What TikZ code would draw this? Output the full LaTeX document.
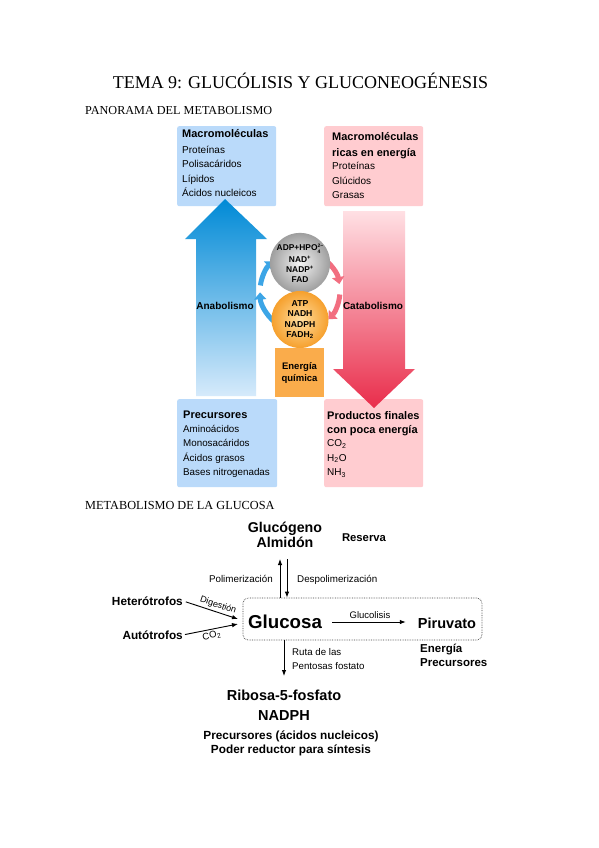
\documentclass[tikz,border=0pt]{standalone}
\usepackage{fontspec}
\setmainfont{Liberation Serif}
\newfontfamily\arial{Liberation Sans}
\usetikzlibrary{arrows.meta}
\definecolor{boxblue}{RGB}{186,218,250}
\definecolor{boxpink}{RGB}{255,204,208}
\definecolor{arrblueA}{RGB}{0,138,214}
\definecolor{arrblueB}{RGB}{214,234,251}
\definecolor{arrredA}{RGB}{255,224,228}
\definecolor{arrredB}{RGB}{233,45,75}
\definecolor{orangeA}{RGB}{255,222,160}
\definecolor{orangeB}{RGB}{246,160,45}
\definecolor{eqorange}{RGB}{250,172,75}
\definecolor{ringblue}{RGB}{60,165,230}
\definecolor{ringred}{RGB}{242,110,128}
\definecolor{grayA}{RGB}{244,244,244}
\definecolor{grayB}{RGB}{158,158,158}
\tikzset{
  heading/.style={inner sep=0, anchor=base west, font=\fontsize{#1}{14}\selectfont},
  bt/.style={inner sep=0, anchor=base west, font=\arial\bfseries\fontsize{#1}{14}\selectfont},
  rt/.style={inner sep=0, anchor=base west, font=\arial\fontsize{#1}{14}\selectfont},
  panel/.style={inner sep=0, anchor=north west, rounded corners=2pt},
  ringarr/.style={line width=5pt, -{Triangle[length=7pt,width=12pt]}},
  arr/.style={line width=0.9pt, -{Latex[length=6pt,width=4.5pt]}},
}
\begin{document}
\begin{tikzpicture}[x=1pt,y=-1pt]
\useasboundingbox (0,0) rectangle (599,848);
\fill[white] (0,0) rectangle (599,848);

% headings
\node[heading=18, anchor=base] (title) at (300.5,89) {TEMA 9: GLUCÓLISIS Y GLUCONEOGÉNESIS};
\node[heading=12.2] (pan) at (85,114) {PANORAMA DEL METABOLISMO};
\node[heading=12.3] (metg) at (85,509) {METABOLISMO DE LA GLUCOSA};

% panel boxes
\node[panel, fill=boxblue, minimum width=99pt, minimum height=80pt] (tlbox) at (177,126) {};
\node[panel, fill=boxpink, minimum width=99pt, minimum height=80pt] (trbox) at (324,126) {};
\node[panel, fill=boxblue, minimum width=100pt, minimum height=88pt] (blbox) at (177,399) {};
\node[panel, fill=boxpink, minimum width=99pt, minimum height=88pt] (brbox) at (324,399) {};

% big arrows
\shade[top color=arrblueA, bottom color=arrblueB]
  (225,199) -- (267,239) -- (256,239) -- (256,396) -- (196,396) -- (196,239) -- (185,239) -- cycle;
\shade[top color=arrredA, bottom color=arrredB]
  (343,211) -- (405,211) -- (405,369) -- (415,369) -- (374,408) -- (333,369) -- (343,369) -- cycle;

% box texts
\node[bt=11] (tl0) at (182,138) {Macromoléculas};
\foreach \t [count=\i] in {Proteínas,Polisacáridos,Lípidos,Ácidos nucleicos}
  \node[rt=10] (tl\i) at (182,139.3+14.33*\i) {\t};
\node[bt=11] (tr0) at (332,140) {Macromoléculas};
\node[bt=11] (tr00) at (332,156) {ricas en energía};
\foreach \t [count=\i] in {Proteínas,Glúcidos,Grasas}
  \node[rt=10] (tr\i) at (332,155.1+14.5*\i) {\t};
\node[bt=11] (bl0) at (183,418) {Precursores};
\foreach \t [count=\i] in {Aminoácidos,Monosacáridos,Ácidos grasos,Bases nitrogenadas}
  \node[rt=9.8] (bl\i) at (183,418.3+14.33*\i) {\t};
\node[bt=11] (br0) at (327,419) {Productos finales};
\node[bt=11] (br00) at (327,433) {con poca energía};
\node[rt=10] (br1) at (327,446.6) {CO\textsubscript{2}};
\node[rt=10] (br2) at (327,461.1) {H\textsubscript{2}O};
\node[rt=10] (br3) at (327,475.6) {NH\textsubscript{3}};

% arrow labels
\node[bt=10, anchor=base] (ana) at (225,309.6) {Anabolismo};
\node[bt=10, anchor=base] (cata) at (373,309.6) {Catabolismo};

% ring arrows
\coordinate (rc) at (300,291);
\draw[ringarr, ringblue] ([shift={(130:40)}]rc) arc[start angle=130, end angle=178, radius=40];
\draw[ringarr, ringblue] ([shift={(188:40)}]rc) arc[start angle=188, end angle=228, radius=40];
\draw[ringarr, ringred] ([shift={(305:40)}]rc) arc[start angle=305, end angle=350, radius=40];
\draw[ringarr, ringred] ([shift={(5:40)}]rc) arc[start angle=5, end angle=45, radius=40];

% circles
\node[circle, minimum size=56pt, inner sep=0, inner color=grayA, outer color=grayB,
  align=center, font=\arial\bfseries\fontsize{8.4}{10}\selectfont] (gc) at (300,263)
  {ADP+HPO{\fontsize{5}{5.6}\selectfont\begin{tabular}[c]{@{}l@{}}2−\\4\end{tabular}}\\NAD\textsuperscript{+}\\NADP\textsuperscript{+}\\FAD};
\node[circle, minimum size=57pt, inner sep=0, inner color=orangeA, outer color=orangeB,
  align=center, font=\arial\bfseries\fontsize{8.6}{10.3}\selectfont] (oc) at (300,319.5)
  {ATP\\NADH\\NADPH\\FADH\textsubscript{2}};
\node[fill=eqorange, minimum width=49pt, minimum height=49pt, inner sep=0, align=center,
  font=\arial\bfseries\fontsize{9.5}{12}\selectfont] (eq) at (299.5,372.5) {Energía\\química};

% glucose metabolism
\node[bt=14.2, anchor=base] (glg1) at (285,532) {Glucógeno};
\node[bt=14.2, anchor=base] (glg2) at (285,547) {Almidón};
\node[bt=11.3, anchor=base] (res) at (364,541) {Reserva};
\node[draw=black!75, densely dotted, line width=0.7pt, rounded corners=5pt, minimum width=239pt,
  minimum height=42pt, inner sep=0] (gbox) at (362.5,619) {};
\node[bt=18.7, anchor=base] (glc) at (285,628.7) {Glucosa};
\node[bt=14.5, anchor=base] (pir) at (447,628.2) {Piruvato};
\draw[arr, shorten <=10pt, shorten >=12pt] (glc.east) -- (glc.east -| pir.west)
  node[midway, above=3pt, inner sep=0, font=\arial\fontsize{9.5}{12}\selectfont] (glyl) {Glucolisis};

\coordinate (up1) at (280,559);
\coordinate (dn1) at (287,559);
\draw[arr] (gbox.north -| up1) -- (up1);
\draw[arr] (dn1) -- (gbox.north -| dn1);
\node[rt=9.8, anchor=base east] (pol) at (273,582.6) {Polimerización};
\node[rt=9.8] (despol) at (297,582.6) {Despolimerización};

\node[bt=11.8, anchor=base east] (het) at (183,605.2) {Heterótrofos};
\node[bt=11.8, anchor=base east] (aut) at (183,639.2) {Autótrofos};
\coordinate (dg) at (238,619);
\coordinate (ag) at (238,624);
\draw[arr, shorten <=3pt] (het.east) -- (dg)
  node[pos=0.6, sloped, above=2pt, inner sep=0, font=\arial\fontsize{9}{11}\selectfont] (dig) {Digestión};
\draw[arr, shorten <=2pt] (aut.east) -- (ag)
  node[pos=0.5, sloped, below=2pt, inner sep=0, font=\arial\fontsize{9.5}{11}\selectfont] (co2) {CO\textsubscript{2}};

\node[bt=11.5] (en) at (420,652) {Energía};
\node[bt=11.5] (prc) at (420,666) {Precursores};

\coordinate (rp) at (284,676);
\draw[arr] (gbox.south -| rp) -- (rp);
\node[rt=9.7] (ruta1) at (292,655.5) {Ruta de las};
\node[rt=9.7] (ruta2) at (292,669.5) {Pentosas fostato};

\node[bt=14.5, anchor=base] (rib) at (284,700.2) {Ribosa-5-fosfato};
\node[bt=14.5, anchor=base] (nadph) at (284,720.2) {NADPH};
\node[bt=11.8, anchor=base] (pan2) at (291,739) {Precursores (ácidos nucleicos)};
\node[bt=11.8, anchor=base] (pod) at (291,753) {Poder reductor para síntesis};
\end{tikzpicture}
\end{document}
